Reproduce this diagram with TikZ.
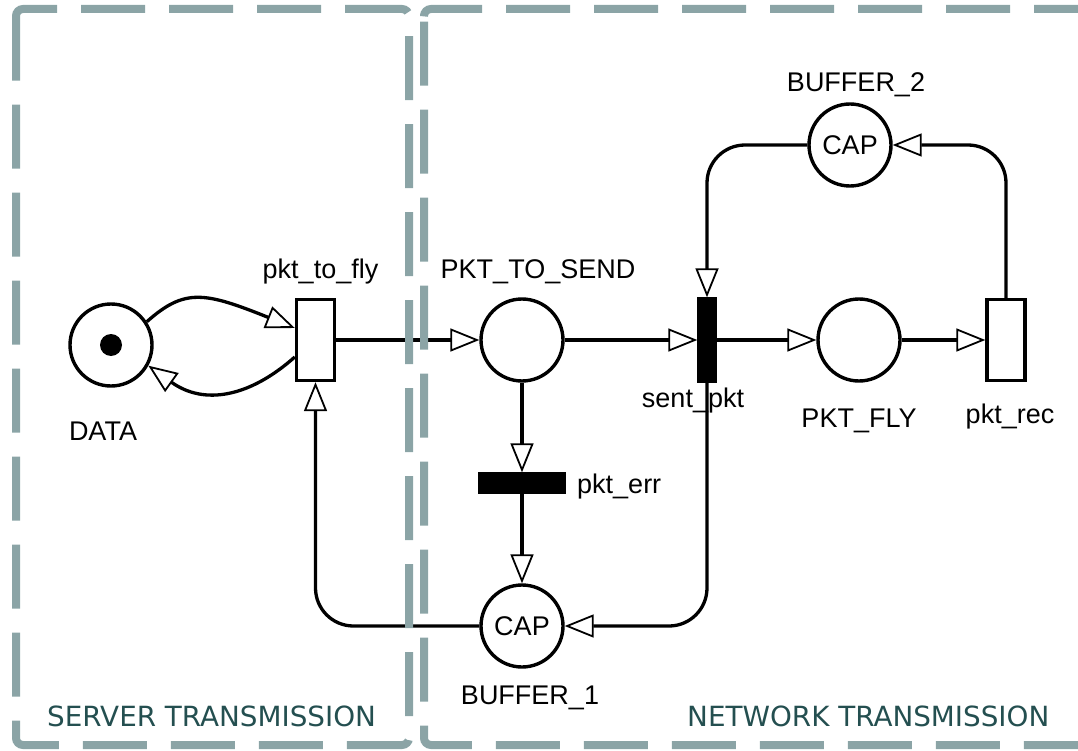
\documentclass[tikz,border=0pt]{standalone}
\usepackage{fontspec}
\setmainfont{Liberation Sans}
\newfontfamily\zonefont{DejaVu Sans}
\usetikzlibrary{arrows.meta,positioning,calc}
\definecolor{zoneline}{HTML}{8BA4A6}
\definecolor{zonetext}{HTML}{244F50}

\begin{document}
\begin{tikzpicture}[
  x=1pt, y=-1pt,
  font=\fontsize{27}{30}\selectfont,
  place/.style={draw, circle, line width=3.4pt, minimum size=82pt,
                inner sep=0pt},
  trans/.style={draw, rectangle, line width=3.4pt, inner sep=0pt,
                minimum width=38pt, minimum height=81pt},
  bar/.style={trans, fill=black},
  lbl/.style={anchor=base, inner sep=0pt},
  arr/.style={-{Triangle[open, length=29pt, width=23pt, line width=1.8pt]},
              line width=3.3pt},
  bentarr/.style={arr, rounded corners=38pt},
  zone/.style={draw=zoneline, line width=8pt, rounded corners=7pt,
               dash pattern=on 64pt off 24pt},
  zonelbl/.style={anchor=base west, inner sep=0pt, text=zonetext,
                  font=\zonefont\fontsize{27.8}{30}\selectfont}
]
\useasboundingbox (0,0) rectangle (1078,751);
% places and transitions
\node[place] (data) at (111,345) {};
\node[circle, fill, minimum size=22pt, inner sep=0pt] (tok) at (data) {};
\node[trans] (fly) at (315.5,340) {};
\node[place] (pts) at (522,340) {};
\node[bar, minimum width=16pt, minimum height=82pt] (sent) at (707,340) {};
\node[place] (pfly) at (859,340) {};
\node[trans] (rec) at (1006,340) {};
\node[place] (b2) at (850,145) {CAP};
\node[bar, minimum width=84pt, minimum height=18pt] (err) at (522,483) {};
\node[place] (b1) at (522,626) {CAP};
% labels
\node[lbl] (ldata) at ($(data)+(-8,95)$) {DATA};
\node[lbl] (lfly) at ($(fly)+(5,-62)$) {pkt\_to\_fly};
\node[lbl] (lpts) at ($(pts)+(16,-62)$) {PKT\_TO\_SEND};
\node[lbl] (lsent) at ($(sent)+(-14,67)$) {sent\_pkt};
\node[lbl, anchor=base west] (lerr) at ($(err)+(55,10)$) {pkt\_err};
\node[lbl] (lb1) at ($(b1)+(8,78)$) {BUFFER\_1};
\node[lbl] (lb2) at ($(b2)+(6,-53)$) {BUFFER\_2};
\node[lbl] (lpfly) at ($(pfly)+(0,87)$) {PKT\_FLY};
\node[lbl] (lrec) at ($(rec)+(4,83)$) {pkt\_rec};
% arcs
\draw[arr] (data.33) .. controls +(38,-34) and +(-90,-36)
  .. ([yshift=12pt]fly.west);
\draw[arr] ([yshift=-17pt]fly.west) .. controls +(-45,40) and +(56,40)
  .. (data.-29);
\draw[arr] (fly) -- (pts);
\draw[arr] (pts) -- (sent);
\draw[arr] (sent) -- (pfly);
\draw[arr] (pfly) -- (rec);
\draw[arr] (pts) -- (err);
\draw[arr] (err) -- (b1);
\draw[bentarr] (rec.north) |- (b2);
\draw[bentarr] (b2) -| (sent);
\draw[bentarr] (sent) |- (b1);
\draw[bentarr] (b1) -| (fly);
% zones
\draw[zone] (16,42) -- (16,9) -- (409,9) -- (409,745) -- (16,745) -- cycle;
\draw[zone] (424,21) -- (424,9) -- (1092,9) -- (1092,745) -- (424,745)
  -- cycle;
\node[zonelbl] (zserver) at (47,726) {SERVER TRANSMISSION};
\node[zonelbl] (znet) at (687,726) {NETWORK TRANSMISSION};
\end{tikzpicture}
\end{document}
